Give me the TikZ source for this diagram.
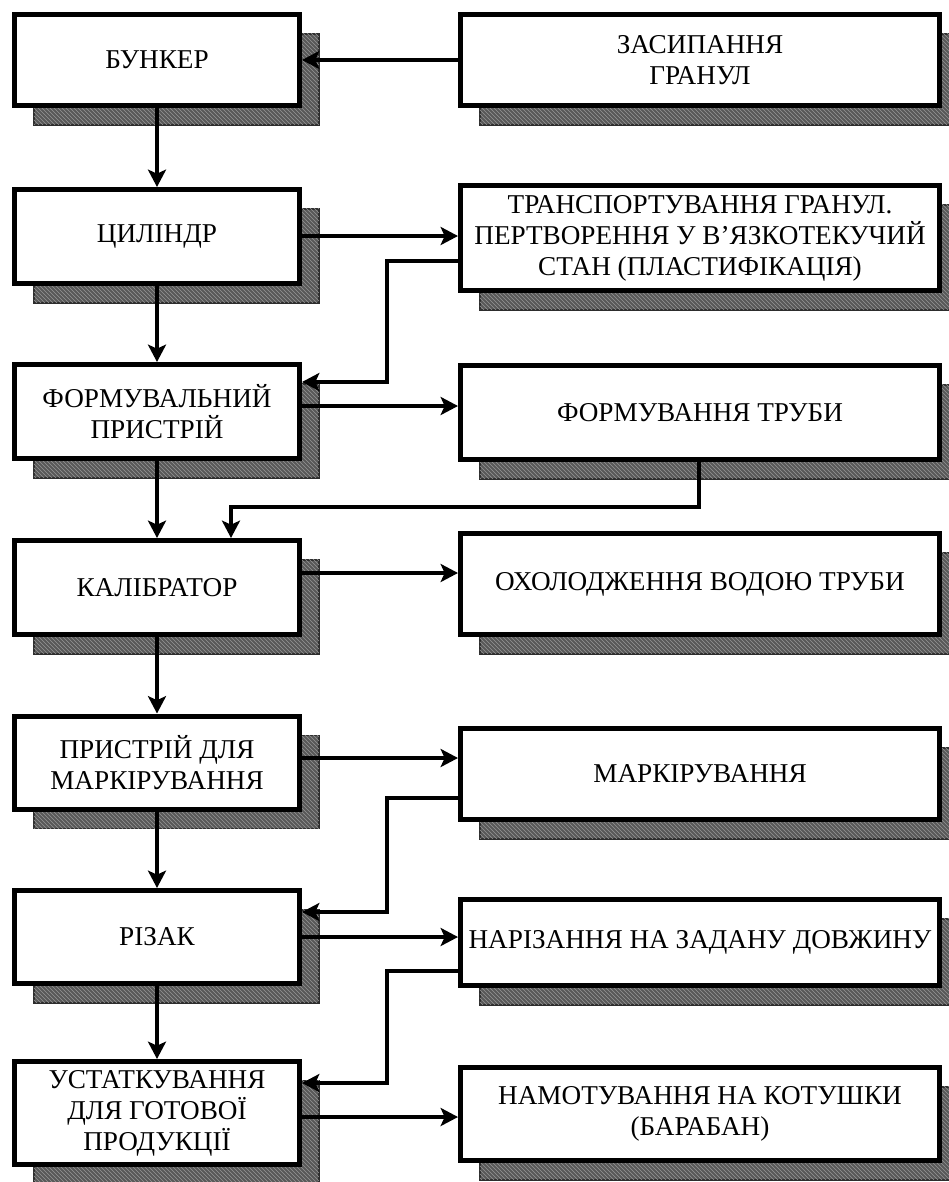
\documentclass[tikz,border=0pt]{standalone}
\usepackage{fontspec}
\setmainfont{Liberation Serif}
\usetikzlibrary{arrows.meta,shadows,patterns}
\definecolor{shgray}{RGB}{88,88,88}
\definecolor{shlight}{RGB}{150,150,150}
\definecolor{shdark}{RGB}{45,45,45}
\begin{document}
\begin{tikzpicture}[x=0.75pt,y=-0.75pt,
  shadowed/.style={
    general shadow={shadow xshift=14.5pt, shadow yshift=-14.5pt, fill=shgray, draw=shdark, line width=1pt},
    general shadow={shadow xshift=14.5pt, shadow yshift=-14.5pt, draw=none, pattern=north west lines, pattern color=shlight}},
  box/.style={shadowed, draw=black, line width=3.75pt, fill=white, align=center, inner sep=0pt,
    font=\fontsize{20.4}{23.25}\selectfont},
  lbox/.style={box, minimum width=213.75pt},
  rbox/.style={box, minimum width=359.25pt},
  conn/.style={line width=3pt, -{Stealth[length=13pt,width=13.5pt,inset=3pt]}}]
\useasboundingbox (0,0) rectangle (949,1182);
% left column
\node[lbox, minimum height=68.25pt] (B1) at (157,60) {БУНКЕР};
\node[lbox, minimum height=70.5pt] (B2) at (157,236.5) {ЦИЛІНДР};
\node[lbox, minimum height=70.5pt] (B3) at (157,411.5) {ФОРМУВАЛЬНИЙ\\ПРИСТРІЙ};
\node[lbox, minimum height=70.5pt] (B4) at (157,587.5) {КАЛІБРАТОР};
\node[lbox, minimum height=69.75pt] (B5) at (157,762.5) {ПРИСТРІЙ ДЛЯ\\МАРКІРУВАННЯ};
\node[lbox, minimum height=69.75pt] (B6) at (157,937) {РІЗАК};
\node[lbox, minimum height=77.25pt] (B7) at (157,1113) {УСТАТКУВАННЯ\\ДЛЯ ГОТОВОЇ\\ПРОДУКЦІЇ};
% right column
\node[rbox, minimum height=68.25pt] (R1) at (700,60) {ЗАСИПАННЯ\\ГРАНУЛ};
\node[rbox, minimum height=78.75pt] (R2) at (700,238) {ТРАНСПОРТУВАННЯ ГРАНУЛ.\\ПЕРТВОРЕННЯ У В’ЯЗКОТЕКУЧИЙ\\СТАН (ПЛАСТИФІКАЦІЯ)};
\node[rbox, minimum height=70.5pt] (R3) at (700,412.5) {ФОРМУВАННЯ ТРУБИ};
\node[rbox, minimum height=75.75pt] (R4) at (700,584) {ОХОЛОДЖЕННЯ ВОДОЮ ТРУБИ};
\node[rbox, minimum height=68.25pt] (R5) at (700,774) {МАРКІРУВАННЯ};
\node[rbox, minimum height=64.5pt] (R6) at (700,942.5) {НАРІЗАННЯ НА ЗАДАНУ ДОВЖИНУ};
\node[rbox, minimum height=69.75pt] (R7) at (700,1114) {НАМОТУВАННЯ НА КОТУШКИ\\(БАРАБАН)};
% helper coordinates
\coordinate (h2) at (380,236);
\coordinate (j1) at (387,261);
\coordinate (j2) at (387,382);
\coordinate (h3) at (380,406);
\coordinate (k1) at (699,507);
\coordinate (k2) at (231,507);
\coordinate (h4) at (380,573);
\coordinate (h5) at (380,758);
\coordinate (m1) at (387,798);
\coordinate (m2) at (387,912);
\coordinate (h6) at (380,937);
\coordinate (n1) at (387,971);
\coordinate (n2) at (387,1083);
\coordinate (h7) at (380,1117);
% connectors
\draw[conn] (R1.west) -- (B1.east);
\foreach \a/\b in {B1/B2,B2/B3,B3/B4,B4/B5,B5/B6,B6/B7}
  \draw[conn] (\a.south) -- (\b.north);
\draw[conn] (B2.east |- h2) -- (R2.west |- h2);
\draw[conn] (R2.west |- j1) -- (j1) -- (j2) -- (B3.east |- j2);
\draw[conn] (B3.east |- h3) -- (R3.west |- h3);
\draw[conn] (R3.south -| k1) -- (k1) -- (k2) -- (B4.north -| k2);
\draw[conn] (B4.east |- h4) -- (R4.west |- h4);
\draw[conn] (B5.east |- h5) -- (R5.west |- h5);
\draw[conn] (R5.west |- m1) -- (m1) -- (m2) -- (B6.east |- m2);
\draw[conn] (B6.east |- h6) -- (R6.west |- h6);
\draw[conn] (R6.west |- n1) -- (n1) -- (n2) -- (B7.east |- n2);
\draw[conn] (B7.east |- h7) -- (R7.west |- h7);
\end{tikzpicture}
\end{document}
